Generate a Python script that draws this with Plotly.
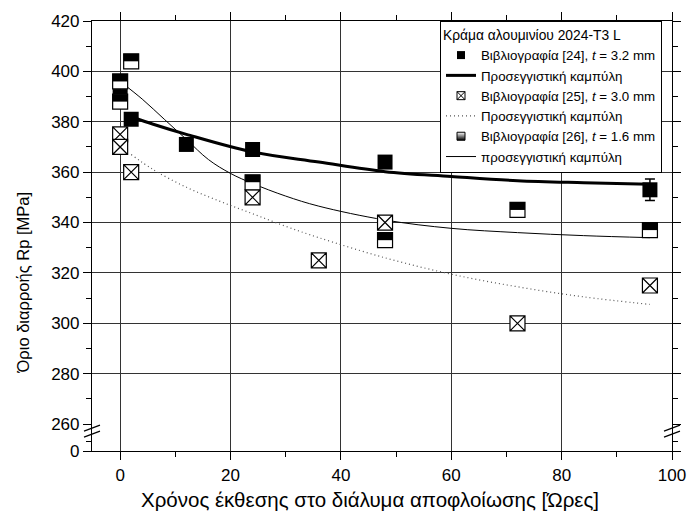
import plotly.graph_objects as go

# ---- data: yield strength Rp [MPa] vs exposure time [h] ----
s24_x = [0, 2, 12, 24, 48, 96]
s24_y = [390, 381, 371, 369, 364, 353]
s24_err = [0, 0, 0, 0, 0, 4.3]

s25_x = [0, 0, 2, 24, 36, 48, 72, 96]
s25_y = [375, 370, 360, 350, 325, 340, 300, 315]

s26_x = [0, 0, 2, 24, 48, 72, 96]
s26_y = [396, 388, 404, 356, 333, 345, 337]

# approximating curves
fit24_x = [2, 6, 12, 24, 36, 48, 60, 72, 84, 96]
fit24_y = [382, 379, 375, 368, 364, 360.2, 358.3, 356.6, 355.8, 355.2]

fit25_x = [2, 6, 12, 18, 24, 30, 36, 48, 60, 72, 84, 96]
fit25_y = [367, 361, 354, 348.5, 343.5, 338.5, 334, 326, 319.5, 314.5, 310.5, 307.5]

fit26_x = [0, 4, 8, 12, 16, 20, 24, 30, 36, 48, 60, 72, 84, 96]
fit26_y = [396, 389, 381, 373, 365, 359.5, 355.5, 350.5, 346.5, 341, 337.7, 336, 334.8, 334]

x_ticks = [0, 20, 40, 60, 80, 100]
y_ticks = [260, 280, 300, 320, 340, 360, 380, 400, 420]
y_grid = [280, 300, 320, 340, 360, 380, 400]
y_low_ticks = [0]

legend_title = "Κράμα αλουμινίου 2024-T3 L"
name24 = "Βιβλιογραφία [24], <i>t</i> = 3.2 mm"
name25 = "Βιβλιογραφία [25], <i>t</i> = 3.0 mm"
name26 = "Βιβλιογραφία [26], <i>t</i> = 1.6 mm"
fit_name = "Προσεγγιστική καμπύλη"
fit_name26 = "προσεγγιστική καμπύλη"

FONT = "Liberation Sans, Arial, sans-serif"
MS = 15      # marker size on the plot
LMS = 8      # marker size in the legend

fig = go.Figure()

# fitted curves (under the markers)
fig.add_trace(go.Scatter(x=fit24_x, y=fit24_y, mode="lines", line=dict(color="black", width=3, shape="spline"),
                         name=fit_name, legendrank=2))
fig.add_trace(go.Scatter(x=fit25_x, y=fit25_y, mode="lines", line=dict(color="#555", width=1.2, dash="1px,3px", shape="spline"),
                         name=fit_name, legendrank=4))
fig.add_trace(go.Scatter(x=fit26_x, y=fit26_y, mode="lines", line=dict(color="black", width=1, shape="spline"),
                         name=fit_name26, legendrank=6))

# [24] filled squares with error bars
fig.add_trace(go.Scatter(x=s24_x, y=s24_y, mode="markers", showlegend=False,
                         marker=dict(symbol="square", size=MS, color="black", line=dict(color="black", width=0)),
                         error_y=dict(type="data", array=s24_err, visible=True, color="black", thickness=1.5, width=5)))
# [25] crossed boxes
fig.add_trace(go.Scatter(x=s25_x, y=s25_y, mode="markers", showlegend=False,
                         marker=dict(symbol="square-x", size=MS, color="white", line=dict(color="black", width=1.2))))
# [26] half-filled squares: white box + black upper half
fig.add_trace(go.Scatter(x=s26_x, y=s26_y, mode="markers", showlegend=False,
                         marker=dict(symbol="square", size=MS, color="white", line=dict(color="black", width=1.2))))
fig.add_trace(go.Scatter(x=s26_x, y=s26_y, mode="markers", showlegend=False,
                         marker=dict(symbol="line-ew", size=MS / 1.4, color="black", angle=180, standoff=MS / 4,
                                     line=dict(color="black", width=MS / 2))))

# legend entries for the point series
fig.add_trace(go.Scatter(x=[None], y=[None], mode="markers", name=name24, legendrank=1,
                         marker=dict(symbol="square", size=LMS, color="black")))
fig.add_trace(go.Scatter(x=[None], y=[None], mode="markers", name=name25, legendrank=3,
                         marker=dict(symbol="square-x", size=LMS, color="white", line=dict(color="black", width=1))))
fig.add_trace(go.Scatter(x=[None], y=[None], mode="markers", name=name26, legendrank=5,
                         marker=dict(symbol="square", size=LMS, color="white",
                                     gradient=dict(type="vertical", color="black"),
                                     line=dict(color="black", width=1))))

# lower (broken) axis segment and grid overlay
fig.add_trace(go.Scatter(x=[None], y=[None], xaxis="x2", yaxis="y2", showlegend=False, hoverinfo="skip"))
fig.add_trace(go.Scatter(x=[None], y=[None], xaxis="x", yaxis="y3", showlegend=False, hoverinfo="skip"))

split = 20 / 432  # height of the lower segment as a fraction of the plot
common_tick = dict(ticks="outside", ticklen=8, tickwidth=1.2, tickcolor="black",
                   showline=True, linecolor="black", linewidth=1.2)

fig.update_layout(
    width=698, height=528,
    margin=dict(l=92, r=18, t=19, b=77),
    paper_bgcolor="white", plot_bgcolor="white",
    font=dict(family=FONT, size=17, color="black"),
    showlegend=True,
    legend=dict(x=0.60, y=1, xanchor="left", yanchor="top", bgcolor="white",
                bordercolor="black", borderwidth=1, font=dict(size=13.3, family=FONT),
                title=dict(text=legend_title, font=dict(size=13.8, family=FONT)),
                tracegroupgap=0, itemwidth=30),
    xaxis=dict(domain=[0, 1], anchor="y", side="top", range=[-5.1, 100], tickvals=x_ticks,
               showticklabels=False, showgrid=True, gridcolor="#333", gridwidth=1, zeroline=False,
               minor=dict(dtick=10, tick0=0, ticks="outside", ticklen=5, tickcolor="black", showgrid=False),
               **common_tick),
    xaxis2=dict(domain=[0, 1], anchor="y2", side="bottom", matches="x", range=[-5.1, 100], tickvals=x_ticks,
                showgrid=True, gridcolor="#333", gridwidth=1, zeroline=False, tickfont=dict(size=17),
                minor=dict(dtick=10, tick0=0, ticks="outside", ticklen=5, tickcolor="black", showgrid=False),
                **common_tick),
    yaxis=dict(domain=[split, 1], anchor="x", range=[420 - 412 / 2.531, 420], tickvals=y_ticks,
               mirror="ticks", showgrid=False, zeroline=False, tickfont=dict(size=17),
               minor=dict(dtick=10, tick0=0, ticks="outside", ticklen=5, tickcolor="black", showgrid=False),
               **common_tick),
    yaxis2=dict(domain=[0, split], anchor="x2", range=[0, 20 / 2.531], tickvals=y_low_ticks,
                mirror="ticks", showgrid=False, zeroline=False, tickfont=dict(size=17),
                minor=dict(tickvals=[3.6], ticks="outside", ticklen=5, tickcolor="black", showgrid=False),
                **common_tick),
    yaxis3=dict(overlaying="y", anchor="x", matches="y", range=[420 - 412 / 2.531, 420], tickvals=y_grid,
                showgrid=True, gridcolor="#333", gridwidth=1, showline=False, showticklabels=False,
                ticks="", zeroline=False),
)

# axis titles
fig.add_annotation(text="Όριο διαρροής Rp [MPa]", textangle=-90, xref="paper", yref="paper",
                   x=-0.119, y=0.392, xanchor="center", yanchor="middle", showarrow=False,
                   font=dict(size=16.5, family="Liberation Sans Narrow, " + FONT))
fig.add_annotation(text="Χρόνος έκθεσης στο διάλυμα αποφλοίωσης [Ώρες]", xref="paper", yref="paper",
                   x=(374 - 92) / 588, y=-(500 - 451) / 432, xanchor="center", yanchor="middle", showarrow=False,
                   font=dict(size=20.5, family=FONT))

# axis-break marks on both vertical axes
for xa in (0, 1):
    for dy in (-3, 3):
        fig.add_shape(type="line", xref="paper", yref="paper", xsizemode="pixel", ysizemode="pixel",
                      xanchor=xa, yanchor=split, x0=-8, x1=8, y0=dy - 3, y1=dy + 3,
                      line=dict(color="black", width=1.2))

fig.write_html("out.html")
